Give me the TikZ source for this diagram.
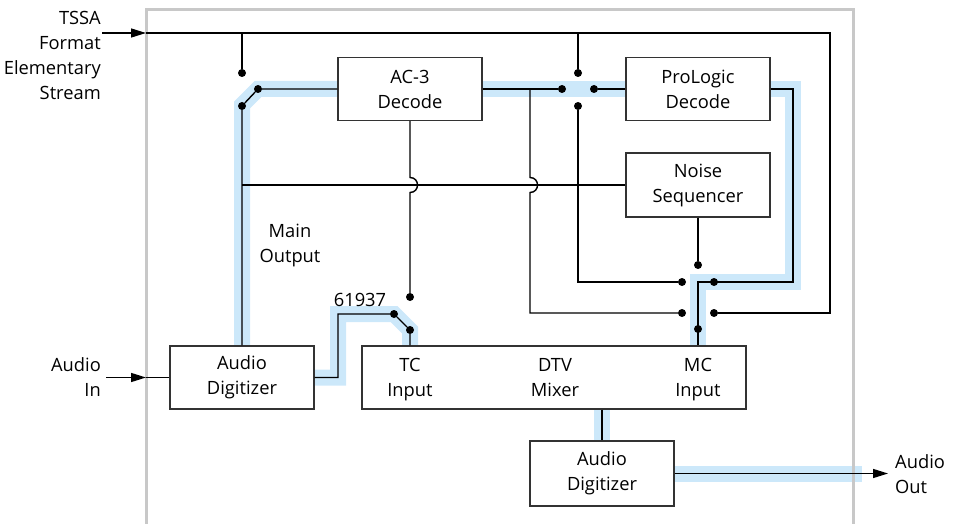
\documentclass[tikz,border=0pt]{standalone}
\usepackage{fontspec}
\setmainfont{Open Sans}
\usetikzlibrary{arrows.meta,backgrounds}
\definecolor{hl}{RGB}{204,232,250}
\definecolor{framegray}{RGB}{200,200,200}
\begin{document}
\begin{tikzpicture}[x=1pt,y=-1pt,
  txt/.style={font=\fontsize{18.3}{25}\selectfont, align=center, inner sep=0pt},
  box/.style={txt, draw=black!80, line width=1.4pt, fill=white, minimum width=144pt, minimum height=63pt},
  wire/.style={line width=1.4pt, black},
  band/.style={line width=16pt, hl, line join=miter},
  dot/.style={circle, fill=black, inner sep=0pt, minimum size=8pt},
  arr/.style={wire, -{Triangle[length=15pt,width=9pt]}}]
\useasboundingbox (0,0) rectangle (955,524);

% boxes
\node[box] (ac3) at (410,89) {AC-3\\Decode};
\node[box] (pro) at (698,89) {ProLogic\\Decode};
\node[box, minimum height=64pt] (noise) at (698,185) {Noise\\Sequencer};
\node[box] (adl) at (242,377.5) {Audio\\Digitizer};
\node[box, minimum width=384pt] (dtv) at (554,377.5) {};
\node[txt] (tc) at (410,379.5) {TC\\Input};
\node[txt] (mix) at (555,377.5) {DTV\\Mixer};
\node[txt] (mc) at (698,379.5) {MC\\Input};
\node[box, minimum height=65pt] (adr) at (602,473.5) {Audio\\Digitizer};

% external labels
\node[txt, anchor=east, align=right] (tssa) at (101,55) {TSSA\\Format\\Elementary\\Stream};
\node[txt, anchor=east, align=right] (ain) at (101,377.5) {Audio\\In};
\node[txt, anchor=west, align=left] (aoutl) at (895,474) {Audio\\Out};
\node[txt] (mainout) at (290,245) {Main\\Output};
\node[txt] (lbl) at (360,300) {61937};

% switch contacts
\node[dot] (s1a) at (242,73) {};
\node[dot] (s1b) at (258,89) {};
\node[dot] (s1c) at (242,106) {};
\node[dot] (s2a) at (578,73) {};
\node[dot] (s2l) at (562,89) {};
\node[dot] (s2r) at (594,89) {};
\node[dot] (s2b) at (578,106) {};
\node[dot] (s3t) at (698,265) {};
\node[dot] (s3l1) at (682,282) {};
\node[dot] (s3r1) at (714,282) {};
\node[dot] (s3l2) at (682,313) {};
\node[dot] (s3r2) at (714,313) {};
\node[dot] (s3b) at (698,329) {};
\node[dot] (s4a) at (410,297) {};
\node[dot] (s4l) at (394,314) {};
\node[dot] (s4r) at (410,330) {};

\coordinate (tsA) at (102,33);
\coordinate (tin) at (146,33);
\coordinate (ainA) at (106,377.5);
\coordinate (ainB) at (146,377.5);
\coordinate (aoutT) at (888,473.5);

% highlight bands and frame
\begin{scope}[on background layer]
  \draw[band] (ac3.west) -- (258,89) -- (242,105) -- (adl.north);
  \draw[band] (ac3.east) -- (pro.west);
  \draw[band] (pro.east) -- (793,89) -- (793,282) -- (698,282) -- (dtv.north -| s3b);
  \draw[band] (adl.east) -- (338,377.5) -- (338,314) -- (394,314) -- (410,330) -- (dtv.north -| s4r);
  \draw[band] (dtv.south -| adr.north) -- (adr.north);
  \draw[band] (adr.east) -- (862,473.5);
  \draw[framegray, line width=3pt] (146,530) -- (146,10) -- (853,10) -- (853,530);
\end{scope}

% wires
\draw[arr] (tsA) -- (tin);
\draw[wire] (tin) -- (830,33) -- (830,313) -- (s3r2);
\draw[wire] (242,33) -- (s1a);
\draw[wire] (578,33) -- (s2a);
\draw[wire] (ac3.west) -- (s1b) -- (s1c) -- (adl.north);
\draw[wire] (ac3.east) -- (s2l);
\draw[wire] (s2r) -- (pro.west);
\draw[wire] (530,89) -- (530,177.5) .. controls (540,177.5) and (540,192.5) .. (530,192.5) -- (530,313) -- (s3l2);
\draw[wire] (s2b) -- (578,282) -- (s3l1);
\draw[wire] (pro.east) -- (793,89) -- (793,282) -- (698,282) -- (dtv.north -| s3b);
\draw[wire] (noise.south) -- (s3t);
\draw[wire] (242,185) -- (noise.west);
\draw[wire] (ac3.south) -- (410,177.5) .. controls (420,177.5) and (420,192.5) .. (410,192.5) -- (s4a);
\draw[wire] (adl.east) -- (338,377.5) -- (338,314) -- (s4l) -- (s4r) -- (dtv.north -| s4r);
\draw[wire] (dtv.south -| adr.north) -- (adr.north);
\draw[arr] (ainA) -- (ainB);
\draw[wire] (ainB) -- (adl.west);
\draw[arr] (adr.east) -- (aoutT);
\end{tikzpicture}
\end{document}
